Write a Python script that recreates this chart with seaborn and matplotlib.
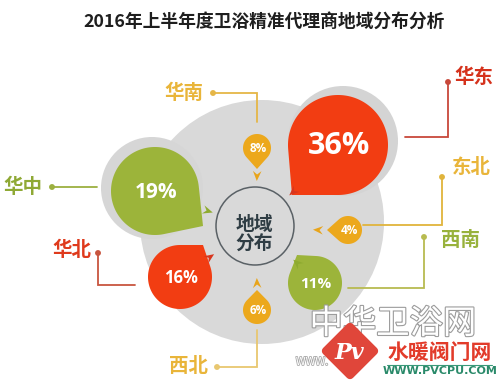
import numpy as np
import pandas as pd
import matplotlib
matplotlib.use('Agg')
import matplotlib.pyplot as plt
import matplotlib.patheffects as pe
import seaborn as sns
from matplotlib.patches import Circle, Polygon

title = '2016年上半年度卫浴精准代理商地域分布分析'
regions = ['华东', '华中', '华北', '西南', '华南', '西北', '东北']
shares = [36, 19, 16, 11, 8, 6, 4]
hub_text = '地域\n分布'

# layout in pixel units (y goes down)
bubble_xy = [(338, 145), (155, 191), (180, 277), (315, 283), (257, 148), (257, 310), (348, 230)]
bubble_r = [50, 44, 32, 27, 14, 14, 14]
tail_xy = [(292, 195), (203, 226), (203, 245), (297, 255), (257, 169), (257, 290), (327, 230)]
chevron_xy = [(293, 192), (208, 211), (210, 257), (297, 263), (257, 176), (257, 283), (318, 230)]
pct_size = [22, 15, 12, 11, 8.5, 8.5, 8.5]
fill = ['#f23d12', '#9cb43a', '#f23d12', '#9cb43a', '#eca81c', '#eca81c', '#eca81c']
arrow_col = ['#d8361e', '#8eab30', '#d8361e', '#8eab30', '#e8a41a', '#e8a41a', '#e8a41a']
label_col = ['#d5321c', '#8fa935', '#df3a1c', '#98b23c', '#e9b53a', '#e9b53a', '#e9b53a']
line_col = ['#c8483a', '#9cb040', '#c8553f', '#b8bb50', '#e5b647', '#e8c770', '#e0b43c']
label_xy = [(474, 77), (23, 187), (72, 250), (461, 240), (184, 93), (189, 367), (471, 167)]
leader = [[(405, 137), (448, 137), (448, 82)],
          [(97, 187), (52, 187)],
          [(135, 285), (98, 285), (98, 253)],
          [(348, 288), (424, 288), (424, 237)],
          [(257, 122), (257, 93), (213, 93)],
          [(257, 330), (257, 367), (217, 367)],
          [(363, 225), (442, 225), (442, 177)]]
hub_xy = (255, 226)


def drop(cx, cy, r, tx, ty, color):
    d = np.hypot(tx - cx, ty - cy)
    a0 = np.arctan2(ty - cy, tx - cx)
    al = np.arccos(r / d)
    t = np.linspace(a0 + al, a0 + 2 * np.pi - al, 150)
    pts = np.column_stack([cx + r * np.cos(t), cy + r * np.sin(t)])
    pts = np.vstack([pts, [tx, ty]])
    return Polygon(pts, closed=True, facecolor=color, edgecolor='none', zorder=4)


def chevron(x, y, ang, s, color):
    loc = np.array([(s, 0), (-s, 0.85 * s), (-0.3 * s, 0), (-s, -0.85 * s)])
    c, sn = np.cos(ang), np.sin(ang)
    pts = np.column_stack([x + loc[:, 0] * c - loc[:, 1] * sn, y + loc[:, 0] * sn + loc[:, 1] * c])
    return Polygon(pts, closed=True, facecolor=color, edgecolor='none', zorder=5)


sns.set_theme(style='white')
plt.rcParams['font.family'] = ['Noto Sans CJK SC', 'DejaVu Sans']

fig = plt.figure(figsize=(5, 3.85), dpi=100)
ax = fig.add_axes([0, 0, 1, 1])

# background discs
ax.add_patch(Circle((262, 222), 122, facecolor='#d9d9d9', edgecolor='none', zorder=1))
ax.add_patch(Circle((343, 141), 55, facecolor='#d4d4d4', edgecolor='none', zorder=2))
ax.add_patch(Circle((152, 188), 51, facecolor='#d6d6d6', edgecolor='none', zorder=2))
ax.add_patch(Circle(hub_xy, 39, facecolor='none', edgecolor='#5a6166', lw=1.1, zorder=3))
ax.text(hub_xy[0] - 1, hub_xy[1] + 8, hub_text, ha='center', va='center', fontsize=13.5,
        fontweight='bold', color='#2f3d44', linespacing=1.05, zorder=6)

for i, reg in enumerate(regions):
    cx, cy = bubble_xy[i]
    tx, ty = tail_xy[i]
    ax.add_patch(drop(cx, cy, bubble_r[i], tx, ty, fill[i]))
    ax.text(cx + 1, cy + 1, f'{shares[i]}%', ha='center', va='center', color='white',
            fontsize=pct_size[i], fontweight='bold', family=['Open Sans', 'DejaVu Sans'], zorder=6)
    qx, qy = chevron_xy[i]
    ang = np.arctan2(hub_xy[1] - qy, hub_xy[0] - qx)
    ax.add_patch(chevron(qx, qy, ang, 5, arrow_col[i]))
    xs, ys = zip(*leader[i])
    ax.plot(xs, ys, color=line_col[i], lw=1.3, zorder=3, solid_joinstyle='miter')
    lx, ly = label_xy[i]
    ax.text(lx, ly, reg, ha='center', va='center', fontsize=14, fontweight='bold',
            color=label_col[i], zorder=6)

dots = pd.DataFrame({'region': regions,
                     'x': [p[-1][0] for p in leader],
                     'y': [p[-1][1] for p in leader]})
sns.scatterplot(data=dots, x='x', y='y', hue='region', palette=dict(zip(regions, line_col)),
                s=18, edgecolor='none', legend=False, ax=ax, zorder=4)

ax.text(264, 22, title, ha='center', va='center', fontsize=12.8, fontweight='bold', color='#1e1e1e')

# watermark
ax.text(393, 324, '中华卫浴网', ha='center', va='center', fontsize=24, color='white', zorder=7,
        path_effects=[pe.withStroke(linewidth=1.6, foreground='#9c9c9c')])
ax.text(312, 362, 'WWW.', ha='center', va='center', fontsize=8, color='white', zorder=7,
        path_effects=[pe.withStroke(linewidth=1.2, foreground='#aaaaaa')])
ax.add_patch(Polygon([(350, 327), (374, 351), (350, 375), (326, 351)], closed=True,
                     facecolor='#e0463a', edgecolor='#e0463a', lw=6, joinstyle='round', zorder=8))
ax.text(349, 353, 'Pv', ha='center', va='center', fontsize=16, color='white', style='italic',
        fontweight='bold', family=['DejaVu Serif'], zorder=9)
ax.text(440, 352, '水暖阀门网', ha='center', va='center', fontsize=15, fontweight='bold',
        color='#e23b2a', zorder=8)
ax.plot([387, 492], [364.5, 364.5], color='#3a9a7a', lw=0.8, zorder=8)
ax.text(440, 371, 'WWW.PVCPU.COM', ha='center', va='center', fontsize=8, fontweight='bold',
        color='#2a8a6a', family=['DejaVu Sans'], zorder=8)

ax.set_xlim(0, 500)
ax.set_ylim(385, 0)
ax.set_aspect('equal')
ax.axis('off')
fig.savefig('out.png', dpi=100, facecolor='white')
